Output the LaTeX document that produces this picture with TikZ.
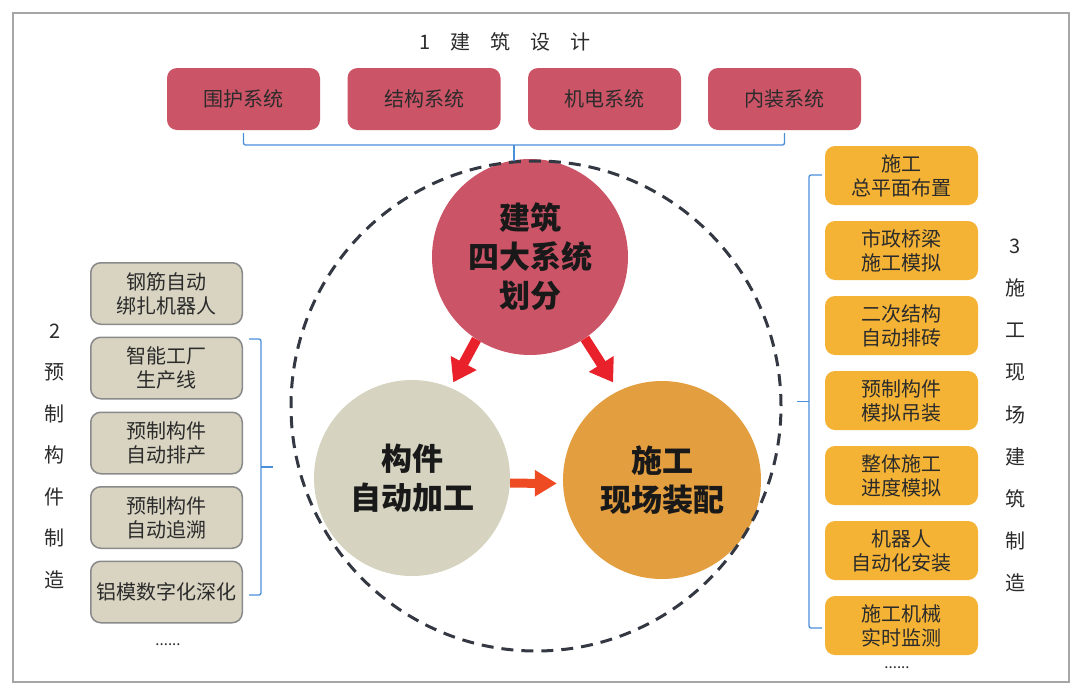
\documentclass[tikz,border=0pt]{standalone}
\usepackage{fontspec}
\setmainfont{Noto Sans CJK SC}
\usetikzlibrary{arrows.meta}
\definecolor{crim}{HTML}{CC5467}
\definecolor{beigeC}{HTML}{D6D4C0}
\definecolor{orangeC}{HTML}{E39E40}
\definecolor{amber}{HTML}{F4B335}
\definecolor{lfill}{HTML}{D8D4C1}
\definecolor{ldraw}{HTML}{8A8A8A}
\definecolor{arrred}{HTML}{E8212B}
\definecolor{arrorg}{HTML}{EE4B22}
\definecolor{ringc}{HTML}{333842}
\definecolor{brkc}{HTML}{4A90D9}
\definecolor{bordc}{HTML}{A6A6A6}
\definecolor{txt}{HTML}{2B2B2B}
\tikzset{
  topbox/.style={rectangle, rounded corners=10pt, fill=crim, minimum width=153pt, minimum height=62pt, inner sep=0pt, font=\fontsize{20}{24}\selectfont, text=txt},
  lbox/.style={rectangle, rounded corners=10pt, fill=lfill, draw=ldraw, line width=1.5pt, minimum width=151.5pt, minimum height=61.5pt, inner sep=0pt, align=center, font=\fontsize{20}{24}\selectfont, text=txt},
  rbox/.style={rectangle, rounded corners=10pt, fill=amber, minimum width=153pt, minimum height=59pt, inner sep=0pt, align=center, font=\fontsize{20}{24}\selectfont, text=txt},
  bigc/.style={circle, inner sep=0pt, align=center, font=\fontsize{31}{39}\selectfont\bfseries, text=black!90},
  redarr/.style={draw=arrred, line width=10pt, -{Triangle[width=28pt,length=22pt]}},
  orgarr/.style={draw=arrorg, line width=9pt, -{Triangle[width=25pt,length=22pt]}},
  brk/.style={draw=brkc, line width=1.3pt, rounded corners=2pt},
  sidelabel/.style={align=center, text=txt},
  dots/.style={font=\fontsize{15}{15}\selectfont, text=txt, inner sep=0pt}
}
\begin{document}
\begin{tikzpicture}[x=1pt,y=-1pt]
\useasboundingbox (0,0) rectangle (1080,694);
\fill[white] (0,0) rectangle (1080,694);
\draw[bordc, line width=1.5pt] (13,13) rectangle (1069,682);

% title
\node[font=\fontsize{20}{24}\selectfont, text=txt] (title) at (505,42) {1\hspace{1em}建\hspace{1em}筑\hspace{1em}设\hspace{1em}计};

% top boxes
\node[topbox] (t1) at (243.5,99) {围护系统};
\node[topbox] (t2) at (424,99) {结构系统};
\node[topbox] (t3) at (604.5,99) {机电系统};
\node[topbox] (t4) at (784.5,99) {内装系统};

% circles
\node[bigc, fill=crim, minimum size=196pt] (top) at (530,257) {建筑\\四大系统\\划分};
\node[bigc, fill=beigeC, minimum size=196pt] (left) at (412,478) {构件\\自动加工};
\node[bigc, fill=orangeC, minimum size=198pt] (right) at (662,480) {施工\\现场装配};

% arrows
\draw[redarr, shorten >=6pt] (top.237) -- (left.67);
\draw[redarr, shorten >=10pt] (top.304) -- (right.116);
\draw[orgarr, shorten >=6pt] (left.-3) -- (right.182);

% dashed ring
\node[circle, draw=ringc, line width=3pt, dash pattern=on 12pt off 8pt, minimum size=490pt, inner sep=0pt] (ring) at (536,406) {};

% top bracket
\coordinate (tt) at (514,145);
\draw[brk] ([yshift=-3pt]t1.south) |- (tt) -| ([yshift=-3pt]t4.south);
\draw[brk] (tt) -- ([yshift=-1pt]tt |- ring.north);

% left boxes
\node[lbox] (l1) at (166.5,293.5) {钢筋自动\\绑扎机器人};
\node[lbox] (l2) at (166.5,368) {智能工厂\\生产线};
\node[lbox] (l3) at (166.5,443) {预制构件\\自动排产};
\node[lbox] (l4) at (166.5,517.5) {预制构件\\自动追溯};
\node[lbox] (l5) at (166.5,592) {铝模数字化深化};
\node[dots] (ldots) at (168,645) {......};

% left label
\node[sidelabel, font=\fontsize{20}{41.5}\selectfont] (llab) at (55,456) {2\\预\\制\\构\\件\\制\\造};

% left bracket
\coordinate (lbt) at (249,339);
\coordinate (lbb) at (249,595);
\coordinate (lbm) at (273,467);
\draw[brk] (lbt) -- (261,339) -- (261,595) -- (lbb);
\draw[brk] (261,467) -- (lbm);

% right boxes
\node[rbox] (r1) at (901.5,175.5) {施工\\总平面布置};
\node[rbox] (r2) at (901.5,250.5) {市政桥梁\\施工模拟};
\node[rbox] (r3) at (901.5,325.5) {二次结构\\自动排砖};
\node[rbox] (r4) at (901.5,400.5) {预制构件\\模拟吊装};
\node[rbox] (r5) at (901.5,475.5) {整体施工\\进度模拟};
\node[rbox] (r6) at (901.5,550.5) {机器人\\自动化安装};
\node[rbox] (r7) at (901.5,625.5) {施工机械\\实时监测};
\node[dots, anchor=base] (rdots) at (897,668) {......};

% right label
\node[sidelabel, font=\fontsize{20}{42.1}\selectfont] (rlab) at (1015,415.5) {3\\施\\工\\现\\场\\建\\筑\\制\\造};

% right bracket
\coordinate (rbt) at (822,175);
\coordinate (rbb) at (822,628);
\coordinate (rbm) at (797,401.5);
\draw[brk] (rbt) -- (809,175) -- (809,628) -- (rbb);
\draw[brk] (809,401.5) -- (rbm);
\end{tikzpicture}
\end{document}
